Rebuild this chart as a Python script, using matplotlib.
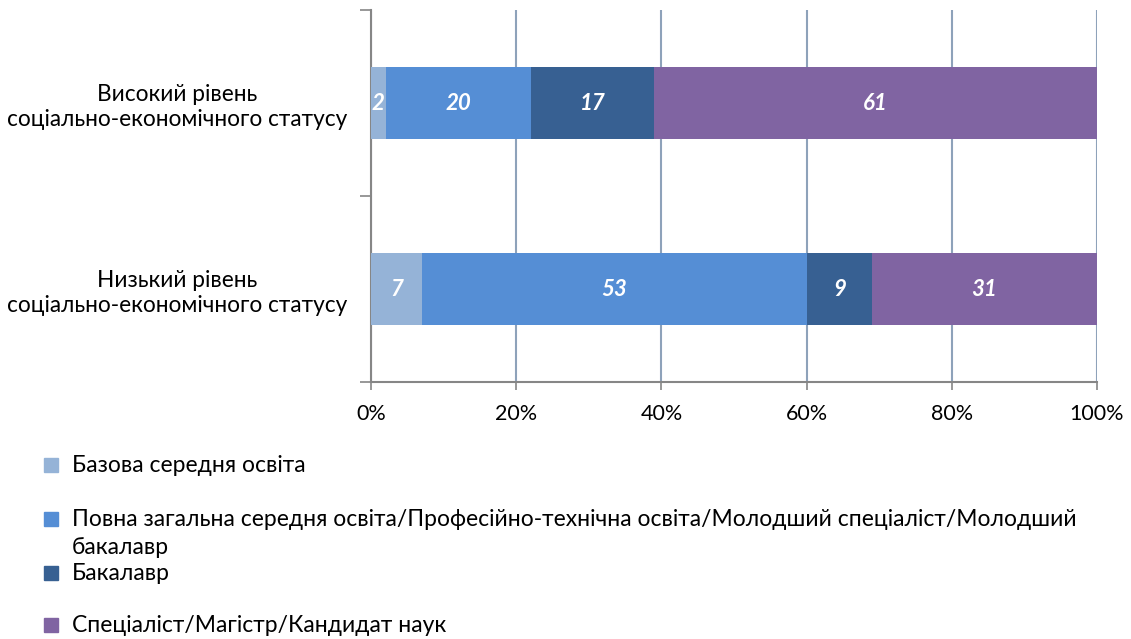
import matplotlib.pyplot as plt
from matplotlib.patches import Rectangle

# Data
categories = ["Низький рівень\nсоціально-економічного статусу",
              "Високий рівень\nсоціально-економічного статусу"]
series_names = [
    "Базова середня освіта",
    "Повна загальна середня освіта/Професійно-технічна освіта/Молодший спеціаліст/Молодший\nбакалавр",
    "Бакалавр",
    "Спеціаліст/Магістр/Кандидат наук",
]
base_secondary = [7, 2]
full_secondary = [53, 20]
bachelor = [9, 17]
specialist = [31, 61]
colors = ["#95B3D7", "#558ED5", "#376092", "#8064A2"]
x_ticks = [0, 20, 40, 60, 80, 100]

plt.rcParams['font.family'] = ['Lato', 'DejaVu Sans']

W, H = 1131, 639
fig = plt.figure(figsize=(W / 100, H / 100), dpi=100)
ax = fig.add_axes([371 / W, 1 - 382 / H, (1097 - 371) / W, (382 - 10) / H])

y = [0, 1]
left = [0, 0]
for vals, color in zip([base_secondary, full_secondary, bachelor, specialist], colors):
    bars = ax.barh(y, vals, left=left, height=0.39, color=color, zorder=3)
    for bar, v in zip(bars, vals):
        ax.text(bar.get_x() + bar.get_width() / 2, bar.get_y() + bar.get_height() / 2,
                str(v), ha="center", va="center", color="white",
                fontsize=16, fontweight="bold", fontstyle="italic", zorder=4)
    left = [l + v for l, v in zip(left, vals)]

ax.set_xlim(0, 100)
ax.set_ylim(-0.5, 1.5)

# x axis
ax.set_xticks(x_ticks, labels=[f"{t}%" for t in x_ticks])
ax.tick_params(axis="x", length=6, width=1.2, color="#868686", labelsize=15.5, pad=10)
ax.xaxis.grid(True, color="#8EA2BA", linewidth=1.5, zorder=0)

# y axis: boundary ticks, category labels as minor ticks
ax.set_yticks([-0.5, 0.5, 1.5], labels=["", "", ""])
ax.set_yticks(y, labels=categories, minor=True)
ax.tick_params(axis="y", which="major", length=8, width=1.2, color="#868686")
ax.tick_params(axis="y", which="minor", length=0, labelsize=16.3, pad=17)
for lab in ax.get_yticklabels(minor=True):
    lab.set_multialignment("center")
    lab.set_linespacing(1.25)

for side in ["top", "right"]:
    ax.spines[side].set_visible(False)
for side in ["left", "bottom"]:
    ax.spines[side].set_color("#868686")
    ax.spines[side].set_linewidth(1.5)

# legend drawn by hand to keep Excel-like spacing
row_y = [465, 519, 573, 625]
for name, color, ry in zip(series_names, colors, row_y):
    fig.patches.append(Rectangle((44 / W, 1 - (ry + 7) / H), 14 / W, 14 / H,
                                 transform=fig.transFigure, color=color))
    wrapped = "\n" in name
    fig.text(72 / W, 1 - (ry - 10 if wrapped else ry) / H, name, ha="left",
             va="top" if wrapped else "center",
             fontsize=16.5, linespacing=1.4,
             transform=fig.transFigure)

fig.savefig("out.png", dpi=100)
